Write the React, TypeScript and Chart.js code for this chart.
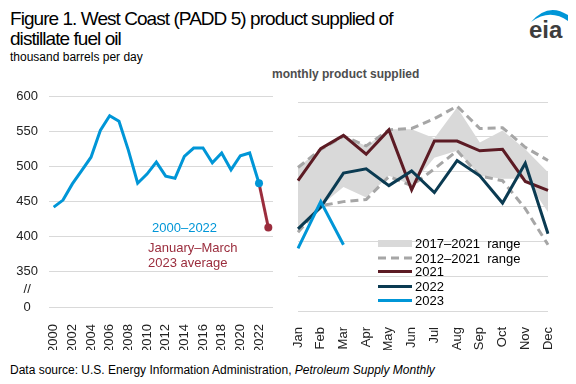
import React, { useEffect, useRef } from 'react';
import { Chart, registerables } from 'chart.js';

Chart.register(...registerables);

const FONT = "'Liberation Sans', Arial, Helvetica, sans-serif";

// ---- Left panel data (annual) ----
const years = ['2000', '2001', '2002', '2003', '2004', '2005', '2006', '2007', '2008', '2009', '2010', '2011',
  '2012', '2013', '2014', '2015', '2016', '2017', '2018', '2019', '2020', '2021', '2022', '2023'];
const annual2000to2022 = [442, 452, 475, 494, 513, 551, 572, 564, 523, 476, 489, 506,
  486, 483, 514, 526, 526, 505, 519, 495, 515, 519, 476, null];
const janMar2023Average = [null, null, null, null, null, null, null, null, null, null, null, null,
  null, null, null, null, null, null, null, null, null, null, 476, 413];
const leftTickValues = [300, 325, 350, 400, 450, 500, 550, 600];

// ---- Right panel data (monthly) ----
const months = ['Jan', 'Feb', 'Mar', 'Apr', 'May', 'Jun', 'Jul', 'Aug', 'Sep', 'Oct', 'Nov', 'Dec'];
const range2017to2021High = [506, 533, 552, 537, 561, 561, 548, 592, 542, 559, 532, 499];
const range2017to2021Low = [416, 451, 478, 463, 494, 481, 520, 530, 494, 490, 490, 442];
const range2012to2021High = [506, 532, 551, 537, 560, 562, 576, 594, 562, 563, 535, 516];
const range2012to2021Low = [413, 451, 457, 460, 493, 480, 504, 530, 494, 487, 447, 395];
const supplied2021 = [487, 533, 552, 525, 560, 474, 544, 544, 530, 532, 486, 473];
const supplied2022 = [418, 449, 498, 504, 480, 501, 470, 516, 494, 455, 512, 411];
const supplied2023 = [390, 457, 395];

const BLUE = '#0096d7';
const MAROON_AVG = '#9b2d3d';
const C2021 = '#5c1b24';
const C2022 = '#0b3b52';
const GRID = '#d9d9d9';
const BAND = '#d9d9d9';
const DASH = '#a6a6a6';
const TICK = '#222222';

function LeftChart() {
  const ref = useRef<HTMLCanvasElement | null>(null);
  useEffect(() => {
    if (!ref.current) return;
    const chart = new Chart(ref.current, {
      type: 'line',
      data: {
        labels: years,
        datasets: [
          {
            label: '2000–2022',
            data: annual2000to2022,
            borderColor: BLUE,
            backgroundColor: BLUE,
            borderWidth: 3,
            pointRadius: annual2000to2022.map((_, i) => (i === 22 ? 4 : 0)),
            pointBorderWidth: 0,
            tension: 0,
            spanGaps: false,
          },
          {
            label: 'January–March 2023 average',
            data: janMar2023Average,
            borderColor: MAROON_AVG,
            backgroundColor: MAROON_AVG,
            borderWidth: 3,
            pointRadius: janMar2023Average.map((_, i) => (i === 23 ? 4 : 0)),
            pointBorderWidth: 0,
            tension: 0,
          },
        ],
      },
      options: {
        animation: false,
        responsive: false,
        layout: { padding: { top: 96, left: 0, right: 17, bottom: 0 } },
        plugins: { legend: { display: false }, tooltip: { enabled: false } },
        scales: {
          x: {
            type: 'category',
            offset: true,
            grid: { display: false },
            border: { display: false },
            afterFit: (s: any) => { s.height = 43; },
            ticks: {
              autoSkip: false,
              maxRotation: 90,
              minRotation: 90,
              padding: 9,
              color: TICK,
              font: { size: 13, family: FONT },
              callback: (_v: any, i: number) => (i % 2 === 0 && i < 23 ? years[i] : null),
            },
          },
          y: {
            min: 300,
            max: 600,
            afterBuildTicks: (s: any) => { s.ticks = leftTickValues.map((v) => ({ value: v })); },
            afterFit: (s: any) => { s.width = 49; },
            grid: {
              drawTicks: false,
              color: (ctx: any) => (ctx.tick && ctx.tick.value === 325 ? 'rgba(0,0,0,0)' : GRID),
            },
            border: { display: false },
            ticks: {
              padding: 11,
              crossAlign: 'center',
              color: TICK,
              font: { size: 13, family: FONT },
              callback: (v: any) => (v === 300 ? '0' : v === 325 ? '//' : String(v)),
            },
          },
        },
      },
    } as any);
    return () => chart.destroy();
  }, []);
  return (
    <canvas
      ref={ref}
      width={290}
      height={350}
      style={{ position: 'absolute', left: 0, top: 0, width: 290, height: 350 }}
    />
  );
}

function RightChart() {
  const ref = useRef<HTMLCanvasElement | null>(null);
  useEffect(() => {
    if (!ref.current) return;
    const line = (label: string, data: (number | null)[], color: string) => ({
      label,
      data,
      borderColor: color,
      backgroundColor: color,
      borderWidth: 3,
      pointRadius: 0,
      tension: 0,
      fill: false,
    });
    const chart = new Chart(ref.current, {
      type: 'line',
      data: {
        labels: months,
        datasets: [
          line('2023', supplied2023, BLUE),
          line('2022', supplied2022, C2022),
          line('2021', supplied2021, C2021),
          { ...line('2012–2021 range high', range2012to2021High, DASH), borderDash: [8, 5] },
          { ...line('2012–2021 range low', range2012to2021Low, DASH), borderDash: [8, 5] },
          {
            label: '2017–2021 range',
            data: range2017to2021High,
            borderColor: BAND,
            backgroundColor: BAND,
            borderWidth: 0,
            pointRadius: 0,
            tension: 0,
            fill: '+1',
          },
          {
            label: '2017–2021 range low',
            data: range2017to2021Low,
            borderColor: BAND,
            backgroundColor: BAND,
            borderWidth: 0,
            pointRadius: 0,
            tension: 0,
            fill: false,
          },
        ],
      },
      options: {
        animation: false,
        responsive: false,
        layout: { padding: { top: 102, left: 13, right: 28, bottom: 0 } },
        plugins: { legend: { display: false }, tooltip: { enabled: false } },
        scales: {
          x: {
            type: 'category',
            offset: false,
            grid: { display: false },
            border: { display: false },
            afterFit: (s: any) => { s.height = 39; },
            ticks: {
              autoSkip: false,
              maxRotation: 90,
              minRotation: 90,
              padding: 8,
              color: TICK,
              font: { size: 13, family: FONT },
            },
          },
          y: {
            min: 300,
            max: 600,
            afterFit: (s: any) => { s.width = 0; },
            grid: { drawTicks: false, color: GRID },
            border: { display: false },
            ticks: { display: false, stepSize: 50 },
          },
        },
      },
    } as any);
    return () => chart.destroy();
  }, []);
  return (
    <canvas
      ref={ref}
      width={291}
      height={350}
      style={{ position: 'absolute', left: 285, top: 0, width: 291, height: 350 }}
    />
  );
}

const abs = (o: React.CSSProperties): React.CSSProperties => ({ position: 'absolute', whiteSpace: 'pre', ...o });

function LegendRow({ y, kind, color, text }: { y: number; kind: 'band' | 'dash' | 'line'; color: string; text: string }) {
  return (
    <>
      {kind === 'band' && <div style={abs({ left: 378, top: y - 3.5, width: 34, height: 7, background: color })} />}
      {kind === 'line' && <div style={abs({ left: 378, top: y - 1.5, width: 34, height: 3, background: color })} />}
      {kind === 'dash' && (
        <svg style={abs({ left: 378, top: y - 2, width: 34, height: 4 })} width={34} height={4}>
          <line x1={0} y1={2} x2={34} y2={2} stroke={color} strokeWidth={3} strokeDasharray="8,5" />
        </svg>
      )}
      <div style={abs({ left: 415, top: y - 7.5, fontSize: 13, lineHeight: '15px', color: '#000' })}>{text}</div>
    </>
  );
}

export default function App() {
  return (
    <div
      style={{
        position: 'absolute',
        left: 0,
        top: 0,
        width: 576,
        height: 384,
        background: '#fff',
        fontFamily: FONT,
        overflow: 'hidden',
      }}
    >
      <div style={abs({ left: 10, top: 9, fontSize: 19, lineHeight: '20px', letterSpacing: '-0.95px', color: '#000' })}>
        {'Figure 1. West Coast (PADD 5) product supplied of\ndistillate fuel oil'}
      </div>
      <div style={abs({ left: 10, top: 50, fontSize: 12, lineHeight: '14px', color: '#000' })}>thousand barrels per day</div>
      <div style={abs({ left: 272, top: 66.5, fontSize: 12, lineHeight: '14px', fontWeight: 'bold', color: '#4d4d4d' })}>
        monthly product supplied
      </div>

      <svg style={abs({ left: 520, top: 0, width: 56, height: 50 })} width={56} height={50}>
        <path d="M11,22 Q28,2 48,15 L48,21 Q30,8 11,22 Z" fill={BLUE} />
        <text x={9} y={38} fontFamily={FONT} fontSize={24} fontWeight="bold" fill="#3d3d3d">eia</text>
      </svg>

      <LeftChart />
      <RightChart />

      <div style={abs({ left: 152, top: 220, fontSize: 13, lineHeight: '15px', color: BLUE })}>2000–2022</div>
      <div style={abs({ left: 148, top: 239.5, fontSize: 13, lineHeight: '15px', color: MAROON_AVG })}>
        {'January–March\n2023 average'}
      </div>

      <LegendRow y={243} kind="band" color={BAND} text={'2017–2021  range'} />
      <LegendRow y={258} kind="dash" color={DASH} text={'2012–2021  range'} />
      <LegendRow y={271.5} kind="line" color={C2021} text="2021" />
      <LegendRow y={286} kind="line" color={C2022} text="2022" />
      <LegendRow y={300.5} kind="line" color={BLUE} text="2023" />

      <div style={abs({ left: 10, top: 363, fontSize: 12, lineHeight: '14px', color: '#000' })}>
        Data source: U.S. Energy Information Administration, <i>Petroleum Supply Monthly</i>
      </div>
    </div>
  );
}
